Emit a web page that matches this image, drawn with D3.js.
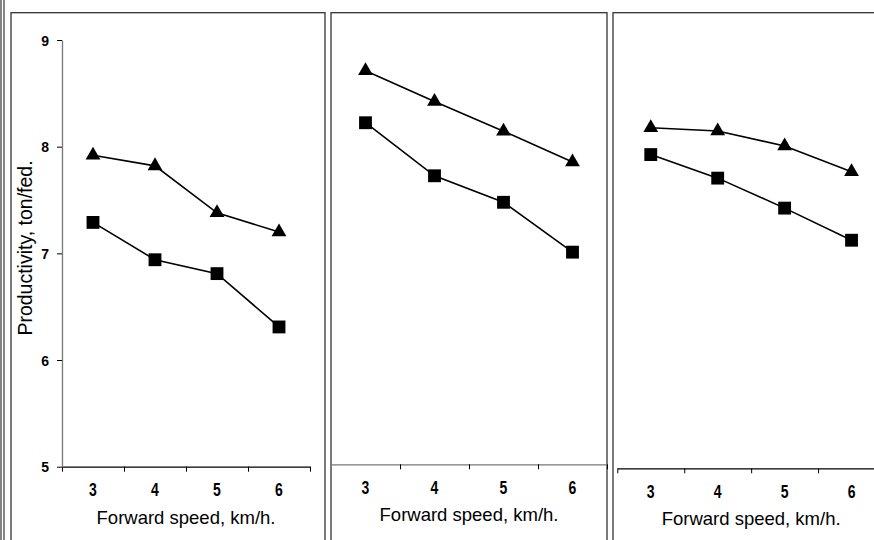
<!DOCTYPE html>
<html>
<head>
<meta charset="utf-8">
<script src="https://d3js.org/d3.v7.min.js"></script>
<style>
  body { margin: 0; background: white; }
  svg { display: block; font-family: "Liberation Sans", Arial, sans-serif; }
  .lab text { font-family: "Liberation Sans", Arial, sans-serif; font-weight: bold; fill: #000; }
</style>
</head>
<body>
<script>
// data
var speeds = [3, 4, 5, 6];
var yTicks = [5, 6, 7, 8, 9];
var p1Triangle = [7.92, 7.82, 7.38, 7.20];
var p1Square   = [7.29, 6.94, 6.81, 6.31];
var p2Triangle = [8.71, 8.42, 8.14, 7.85];
var p2Square   = [8.22, 7.72, 7.47, 7.00];
var p3Triangle = [8.18, 8.15, 8.01, 7.77];
var p3Square   = [7.93, 7.71, 7.43, 7.13];

var width = 874, height = 540;

var svg = d3.select("body").append("svg")
  .attr("width", width)
  .attr("height", height);

// outer frame lines on the far left
svg.append("line").attr("x1", 1).attr("x2", 1).attr("y1", 0).attr("y2", height)
  .attr("stroke", "#333").attr("stroke-width", 1.2);
svg.append("line").attr("x1", 4).attr("x2", 4).attr("y1", 0).attr("y2", height)
  .attr("stroke", "#333").attr("stroke-width", 1.2);

var panels = [
  { left: 11,  right: 325, x0: 62,  x1: 310, base: 466.7, tri: p1Triangle, sq: p1Square, yAxis: true,  axisColor: "#000", firstTick: true },
  { left: 331, right: 607, x0: 331, x1: 607, base: 464.3, tri: p2Triangle, sq: p2Square, yAxis: false, axisColor: "#777", firstTick: false },
  { left: 613, right: 900, x0: 617.3, x1: 885, base: 468.3, tri: p3Triangle, sq: p3Square, yAxis: false, axisColor: "#000", firstTick: true }
];

panels.forEach(function(p) {
  var g = svg.append("g");

  g.append("rect")
    .attr("x", p.left).attr("y", 12.7)
    .attr("width", p.right - p.left).attr("height", 600)
    .attr("fill", "white").attr("stroke", "#333").attr("stroke-width", 1.3);

  var x = d3.scaleLinear().domain([2.5, 6.5]).range([p.x0, p.x1]);
  var y = d3.scaleLinear().domain([5, 9]).range([p.base, 40]);

  // x axis: line + ticks between categories
  var bounds = p.firstTick ? [2.5, 3.5, 4.5, 5.5, 6.5] : [3.5, 4.5, 5.5, 6.5];
  var xAxis = g.append("g")
    .attr("transform", "translate(0," + p.base + ")")
    .call(d3.axisBottom(x).tickValues(bounds).tickSize(5).tickSizeOuter(0).tickFormat(""));
  xAxis.select(".domain").attr("stroke", p.axisColor).attr("stroke-width", 1.3);
  xAxis.selectAll(".tick line").attr("stroke", "#000").attr("stroke-width", 1);

  // category labels (a bit tall, like the original)
  g.append("g").attr("class", "lab")
    .selectAll("text")
    .data(speeds)
    .enter()
    .append("text")
    .attr("transform", function(d) { return "translate(" + x(d) + "," + (p.base + 23) + ") scale(1,1.25)"; })
    .attr("text-anchor", "middle")
    .attr("dy", "0.36em")
    .attr("font-size", 14)
    .text(function(d) { return d; });

  g.append("text")
    .attr("x", (x(3) + x(6)) / 2)
    .attr("y", p.base + 57)
    .attr("text-anchor", "middle")
    .attr("font-size", 18.5)
    .attr("fill", "#000")
    .text("Forward speed, km/h.");

  if (p.yAxis) {
    var yAxis = g.append("g")
      .attr("transform", "translate(" + p.x0 + ",0)")
      .call(d3.axisLeft(y).tickValues(yTicks).tickSize(5).tickSizeOuter(0).tickFormat(""));
    yAxis.select(".domain").attr("stroke", "#777").attr("stroke-width", 1.3);
    yAxis.selectAll(".tick line").attr("stroke", "#000");

    g.append("g").attr("class", "lab")
      .selectAll("text")
      .data(yTicks)
      .enter()
      .append("text")
      .attr("transform", function(d) { return "translate(" + (p.x0 - 13) + "," + y(d) + ") scale(1,1.1)"; })
      .attr("dy", "0.36em")
      .attr("text-anchor", "end")
      .attr("font-size", 14)
      .text(function(d) { return d; });

    g.append("text")
      .attr("transform", "translate(32,248) rotate(-90)")
      .attr("text-anchor", "middle")
      .attr("font-size", 19.5)
      .attr("fill", "#000")
      .text("Productivity, ton/fed.");
  }

  var line = d3.line()
    .x(function(d, i) { return x(speeds[i]); })
    .y(function(d) { return y(d); });

  [[p.tri, d3.symbolTriangle, 95], [p.sq, d3.symbolSquare, 165]].forEach(function(s) {
    g.append("path")
      .datum(s[0])
      .attr("d", line)
      .attr("fill", "none")
      .attr("stroke", "#000")
      .attr("stroke-width", 1.6);

    g.selectAll(null)
      .data(s[0])
      .enter()
      .append("path")
      .attr("d", d3.symbol().type(s[1]).size(s[2]))
      .attr("transform", function(d, i) { return "translate(" + x(speeds[i]) + "," + y(d) + ")"; })
      .attr("fill", "#000");
  });
});
</script>
</body>
</html>
